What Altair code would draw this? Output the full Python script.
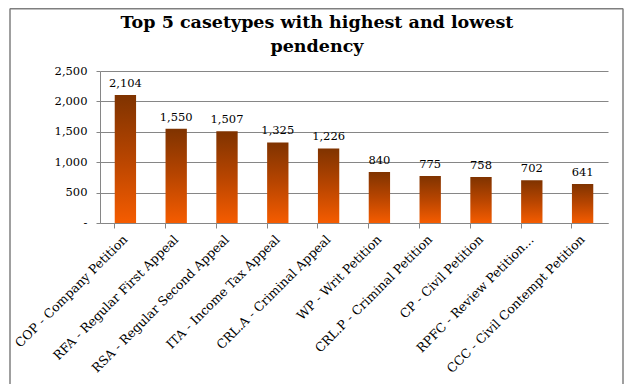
import altair as alt
import pandas as pd

title_lines = ["Top 5 casetypes with highest and lowest", "pendency"]
categories = [
    "COP - Company Petition",
    "RFA - Regular First Appeal",
    "RSA - Regular Second Appeal",
    "ITA - Income Tax Appeal",
    "CRL.A - Criminal Appeal",
    "WP - Writ Petition",
    "CRL.P - Criminal Petition",
    "CP - Civil Petition",
    "RPFC - Review Petition…",
    "CCC - Civil Contempt Petition",
]
values = [2104, 1550, 1507, 1325, 1226, 840, 775, 758, 702, 641]
y_ticks = [0, 500, 1000, 1500, 2000, 2500]

df = pd.DataFrame({"casetype": categories, "count": values})

FONT = "DejaVu Serif"
BORDER = "#7f7f7f"

x = alt.X(
    "casetype:N",
    sort=categories,
    title=None,
    scale=alt.Scale(paddingInner=0.58, paddingOuter=0.29),
    axis=alt.Axis(
        labelAngle=-45,
        labelAlign="right",
        labelBaseline="middle",
        labelFont=FONT,
        labelFontSize=12.5,
        labelColor="#000000",
        labelPadding=9,
        labelLimit=300,
        labelOverlap=False,
        bandPosition=0,
        tickColor="#868686",
        tickSize=5,
        domainColor="#868686",
        grid=False,
    ),
)
y = alt.Y(
    "count:Q",
    title=None,
    scale=alt.Scale(domain=[0, 2500], nice=False),
    axis=alt.Axis(
        values=y_ticks,
        labelExpr="datum.value == 0 ? '-' : format(datum.value, ',')",
        labelFont=FONT,
        labelFontSize=11.5,
        labelColor="#000000",
        labelPadding=9,
        labelOverlap=False,
        tickSize=4,
        tickColor="#868686",
        domainColor="#868686",
        gridColor="#868686",
        gridWidth=1,
    ),
)

grad = alt.Gradient(
    gradient="linear",
    stops=[
        alt.GradientStop(color="#7f3300", offset=0),
        alt.GradientStop(color="#b84500", offset=0.5),
        alt.GradientStop(color="#f55c00", offset=1),
    ],
    x1=0, x2=0, y1=0, y2=1,
)

base = alt.Chart(df).encode(x=x, y=y)
bars = base.mark_bar(color=grad)
text = base.mark_text(
    dy=-11, font=FONT, fontSize=11.5, color="#000000"
).encode(text=alt.Text("count:Q", format=","))

frame_df = pd.DataFrame({"k": [0]})
frame = alt.Chart(frame_df)
left_border = frame.mark_rule(color=BORDER, strokeWidth=1.5).encode(
    x=alt.value(-90), y=alt.value(-62.5), y2=alt.value(313)
)
right_border = frame.mark_rule(color=BORDER, strokeWidth=1.5).encode(
    x=alt.value(523), y=alt.value(-62.5), y2=alt.value(313)
)
top_border = frame.mark_rule(color=BORDER, strokeWidth=1.5).encode(
    x=alt.value(-90), x2=alt.value(523), y=alt.value(-62.3)
)

title_style = dict(font=FONT, fontSize=17.5, fontWeight="bold", color="#000000",
                   align="center", baseline="alphabetic")
title1 = frame.mark_text(text=title_lines[0], **title_style).encode(
    x=alt.value(217), y=alt.value(-43)
)
title2 = frame.mark_text(text=title_lines[1], **title_style).encode(
    x=alt.value(217), y=alt.value(-19)
)

chart = (
    alt.layer(bars, text, left_border, right_border, top_border, title1, title2)
    .properties(
        width=508,
        height=152,
        background="#ffffff",
        padding={"left": 92, "top": 63, "right": 18, "bottom": 162},
        autosize=alt.AutoSizeParams(type="none"),
    )
    .configure_view(stroke="transparent")
)

chart.save("out.html", embed_options={"renderer": "svg", "actions": False})
